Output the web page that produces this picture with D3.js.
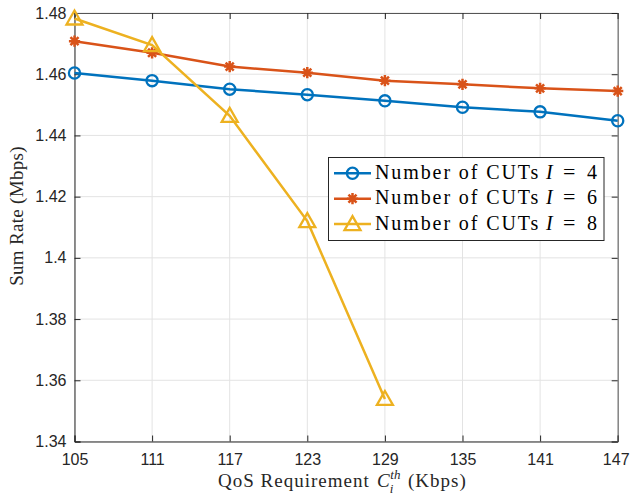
<!DOCTYPE html>
<html>
<head>
<meta charset="utf-8">
<script src="https://cdn.jsdelivr.net/npm/d3@7"></script>
<style>
  html, body { margin: 0; padding: 0; background: #fff; }
  svg { display: block; }
</style>
</head>
<body>
<svg id="chart" width="630" height="498"></svg>
<script>
// QoS requirement (Kbps) on the x axis
const qos = [105, 111, 117, 123, 129, 135, 141, 147];
// Sum rate (Mbps) for each number of CUTs
const rateI4 = [1.4604, 1.4579, 1.4551, 1.4533, 1.4513, 1.4492, 1.4477, 1.4448];
const rateI6 = [1.4708, 1.4670, 1.4625, 1.4605, 1.4579, 1.4567, 1.4554, 1.4545];
const rateI8 = [1.4782, 1.4695, 1.4464, 1.4120, 1.3539];
const yTicks = [1.34, 1.36, 1.38, 1.40, 1.42, 1.44, 1.46, 1.48];
const seriesNames = ["I = 4", "I = 6", "I = 8"];

const colors = ["#0072BD", "#D95319", "#EDB120"];
const markers = ["circle", "asterisk", "triangle"];

const svg = d3.select("#chart");
const L = 74.5, R = 617.7, T = 13, B = 441.5;

const x = d3.scaleLinear().domain([105, 147]).range([L, R]);
const y = d3.scaleLinear().domain([1.34, 1.48]).range([B, T]);

// grid
const grid = svg.append("g").attr("stroke", "#e3e3e3").attr("stroke-width", 1);
qos.forEach(v => grid.append("line").attr("x1", x(v)).attr("x2", x(v)).attr("y1", T).attr("y2", B));
yTicks.forEach(v => grid.append("line").attr("x1", L).attr("x2", R).attr("y1", y(v)).attr("y2", y(v)));

// axes (ticks inside, box around)
const xAxis = d3.axisBottom(x).tickValues(qos).tickSize(-6).tickPadding(12).tickFormat(d3.format("d"));
const yAxis = d3.axisLeft(y).tickValues(yTicks).tickSize(-6).tickPadding(8).tickFormat(d => d === 1.4 ? "1.4" : d3.format(".2f")(d));

const gx = svg.append("g").attr("transform", `translate(0,${B})`).call(xAxis);
const gy = svg.append("g").attr("transform", `translate(${L},0)`).call(yAxis);
// top and right ticks
const gxt = svg.append("g").attr("transform", `translate(0,${T})`).call(d3.axisTop(x).tickValues(qos).tickSize(-6).tickFormat(""));
const gyr = svg.append("g").attr("transform", `translate(${R},0)`).call(d3.axisRight(y).tickValues(yTicks).tickSize(-6).tickFormat(""));

[gx, gy, gxt, gyr].forEach(g => {
  g.select(".domain").attr("stroke", "#262626").attr("stroke-width", 1);
  g.selectAll(".tick line").attr("stroke", "#262626").attr("stroke-width", 1);
  g.selectAll("text").attr("fill", "#262626").style("font-family", "'Liberation Sans', Arial, sans-serif").style("font-size", "16px");
});
// keep the last x tick label inside the canvas
gx.selectAll(".tick text").filter(d => d === 147).attr("dx", -2);
gxt.select(".domain").attr("stroke", "#555");
gyr.select(".domain").attr("stroke", "#555");

// series
const data = [rateI4, rateI6, rateI8];
function drawMarker(g, type, cx, cy, color) {
  if (type === "circle") {
    g.append("circle").attr("cx", cx).attr("cy", cy).attr("r", 5.6)
      .attr("fill", "none").attr("stroke", color).attr("stroke-width", 2.3);
  } else if (type === "asterisk") {
    const s = 5.6, d = s * 0.72;
    const p = `M${cx - s},${cy}L${cx + s},${cy}M${cx},${cy - s}L${cx},${cy + s}` +
              `M${cx - d},${cy - d}L${cx + d},${cy + d}M${cx - d},${cy + d}L${cx + d},${cy - d}`;
    g.append("path").attr("d", p).attr("stroke", color).attr("stroke-width", 2.5).attr("fill", "none");
  } else {
    const s = 8;
    const p = `M${cx},${cy - s}L${cx + s},${cy + s * 0.75}L${cx - s},${cy + s * 0.75}Z`;
    g.append("path").attr("d", p).attr("stroke", color).attr("stroke-width", 2.3).attr("fill", "none").attr("stroke-linejoin", "miter");
  }
}

const line = d3.line().x((d, i) => x(qos[i])).y(d => y(d));
data.forEach((vals, k) => {
  const g = svg.append("g");
  g.append("path").attr("d", line(vals)).attr("fill", "none")
    .attr("stroke", colors[k]).attr("stroke-width", 2.5);
  vals.forEach((v, i) => drawMarker(g, markers[k], x(qos[i]), y(v), colors[k]));
});

// legend
const serif = "'Liberation Serif', 'Times New Roman', serif";
const lg = svg.append("g");
lg.append("rect").attr("x", 328.5).attr("y", 157.5).attr("width", 275.5).attr("height", 83)
  .attr("fill", "#fff").attr("stroke", "#262626").attr("stroke-width", 1);
seriesNames.forEach((name, k) => {
  const cy = 173.3 + k * 25.4;
  lg.append("line").attr("x1", 334).attr("x2", 371).attr("y1", cy).attr("y2", cy)
    .attr("stroke", colors[k]).attr("stroke-width", 2.5);
  drawMarker(lg, markers[k], 352.5, cy, colors[k]);
  const parts = name.split(" = ");
  const t = lg.append("text").attr("y", cy + 5.5)
    .style("font-family", serif).style("font-size", "20px").attr("fill", "#000");
  t.append("tspan").attr("x", 375).style("letter-spacing", "1.9px").text("Number of CUTs");
  t.append("tspan").attr("x", 546).style("font-style", "italic").text(parts[0]);
  t.append("tspan").attr("x", 563).style("font-size", "22px").text("=");
  t.append("tspan").attr("x", 587).text(parts[1]);
});

// axis labels
const xl = svg.append("text").attr("y", 487)
  .style("font-family", serif).style("font-size", "19px").attr("fill", "#262626");
xl.append("tspan").attr("x", 218).style("letter-spacing", "1px").text("QoS Requirement");
xl.append("tspan").attr("x", 377).style("font-style", "italic").text("C");
xl.append("tspan").style("font-style", "italic").style("font-size", "13px").attr("dy", 6).text("i");
xl.append("tspan").style("font-style", "italic").style("font-size", "13px").attr("dx", -3).attr("dy", -14).text("th");
xl.append("tspan").attr("x", 408).attr("dy", 8).style("letter-spacing", "1px").text("(Kbps)");

svg.append("text").attr("transform", `translate(23,216) rotate(-90)`).attr("text-anchor", "middle")
  .style("font-family", serif).style("font-size", "19px").style("letter-spacing", "0.3px").attr("fill", "#262626").text("Sum Rate (Mbps)");
</script>
</body>
</html>
